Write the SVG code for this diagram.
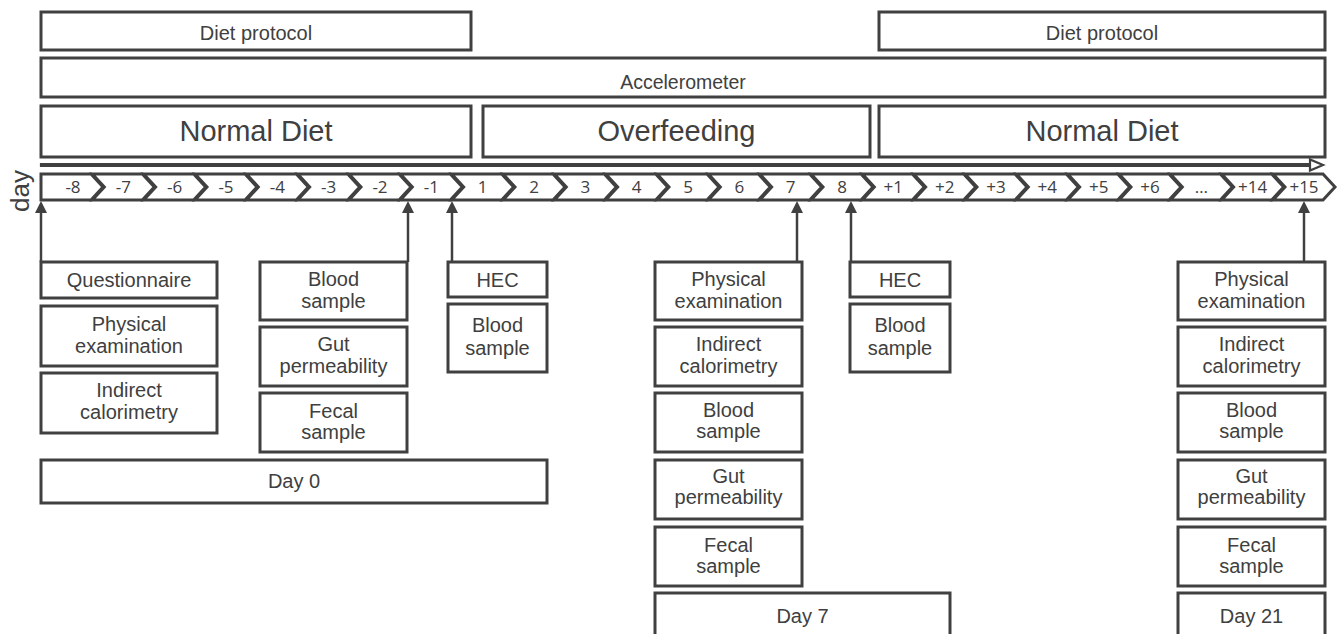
<svg xmlns="http://www.w3.org/2000/svg" width="1339" height="634" viewBox="0 0 1339 634">
<style>
.box{fill:#fff;stroke:#404040;stroke-width:3}
.t{font-family:"Liberation Sans",Arial,sans-serif;font-size:20px;fill:#404040;text-anchor:middle}
.big{font-size:29px}
.acc{font-size:19.5px}
.chev{fill:#fff;stroke:#404040;stroke-width:3;stroke-linejoin:miter}
.n{font-family:"Open Sans","Liberation Sans",sans-serif;font-size:17px;fill:#404040;text-anchor:middle}
.arr{stroke:#404040;stroke-width:2.5;fill:none}
</style>
<defs>
<polygon id="chv" points="0,0 50,0 62,13 50,26 0,26 12,13"/>
<marker id="ah" markerUnits="userSpaceOnUse" markerWidth="12" markerHeight="12" refX="0" refY="5" orient="auto" viewBox="0 0 10 10">
<path d="M0,0 L10,5 L0,10 z" fill="#404040"/>
</marker>
</defs>

<g id="top-diet-1"><rect class="box" x="41" y="12" width="430" height="38"/><text class="t" x="256" y="40">Diet protocol</text></g>
<g id="top-diet-2"><rect class="box" x="879" y="12" width="446" height="38"/><text class="t" x="1102" y="40">Diet protocol</text></g>
<g id="accelerometer"><rect class="box" x="41" y="58" width="1284" height="39"/><text class="t acc" x="683" y="89">Accelerometer</text></g>
<g id="phase-normal-1"><rect class="box" x="41" y="106" width="430" height="51"/><text class="t big" x="256" y="141">Normal Diet</text></g>
<g id="phase-overfeeding"><rect class="box" x="483" y="106" width="387" height="51"/><text class="t big" x="676.5" y="141">Overfeeding</text></g>
<g id="phase-normal-2"><rect class="box" x="879" y="106" width="446" height="51"/><text class="t big" x="1102" y="141">Normal Diet</text></g>

<g id="timeline-arrow"><polygon points="41,164 1310,164 1310,159.5 1323,165 1310,170.5 1310,166 41,166" fill="#fff" stroke="#404040" stroke-width="2.2" stroke-linejoin="miter"/></g>

<g id="day-label"><text class="t" style="font-size:26px" transform="translate(29,191) rotate(-90)">day</text></g>

<g id="days">
<polygon class="chev" points="41,174 91,174 103,187 91,200 41,200"/>
<use href="#chv" class="chev" x="92.33" y="174"/>
<use href="#chv" class="chev" x="143.67" y="174"/>
<use href="#chv" class="chev" x="195" y="174"/>
<use href="#chv" class="chev" x="246.33" y="174"/>
<use href="#chv" class="chev" x="297.67" y="174"/>
<use href="#chv" class="chev" x="349" y="174"/>
<use href="#chv" class="chev" x="400.33" y="174"/>
<use href="#chv" class="chev" x="451.67" y="174"/>
<use href="#chv" class="chev" x="503" y="174"/>
<use href="#chv" class="chev" x="554.33" y="174"/>
<use href="#chv" class="chev" x="605.67" y="174"/>
<use href="#chv" class="chev" x="657" y="174"/>
<use href="#chv" class="chev" x="708.33" y="174"/>
<use href="#chv" class="chev" x="759.67" y="174"/>
<use href="#chv" class="chev" x="811" y="174"/>
<use href="#chv" class="chev" x="862.33" y="174"/>
<use href="#chv" class="chev" x="913.67" y="174"/>
<use href="#chv" class="chev" x="965" y="174"/>
<use href="#chv" class="chev" x="1016.33" y="174"/>
<use href="#chv" class="chev" x="1067.67" y="174"/>
<use href="#chv" class="chev" x="1119" y="174"/>
<use href="#chv" class="chev" x="1170.33" y="174"/>
<use href="#chv" class="chev" x="1221.67" y="174"/>
<use href="#chv" class="chev" x="1273" y="174"/>
<text class="n" x="73" y="193">-8</text>
<text class="n" x="123.3" y="193">-7</text>
<text class="n" x="174.7" y="193">-6</text>
<text class="n" x="226" y="193">-5</text>
<text class="n" x="277.3" y="193">-4</text>
<text class="n" x="328.7" y="193">-3</text>
<text class="n" x="380" y="193">-2</text>
<text class="n" x="431.3" y="193">-1</text>
<text class="n" x="482.7" y="193">1</text>
<text class="n" x="534" y="193">2</text>
<text class="n" x="585.3" y="193">3</text>
<text class="n" x="636.7" y="193">4</text>
<text class="n" x="688" y="193">5</text>
<text class="n" x="739.3" y="193">6</text>
<text class="n" x="790.7" y="193">7</text>
<text class="n" x="842" y="193">8</text>
<text class="n" x="893.3" y="193">+1</text>
<text class="n" x="944.7" y="193">+2</text>
<text class="n" x="996" y="193">+3</text>
<text class="n" x="1047.3" y="193">+4</text>
<text class="n" x="1098.7" y="193">+5</text>
<text class="n" x="1150" y="193">+6</text>
<text class="n" x="1201.3" y="193">…</text>
<text class="n" x="1252.7" y="193">+14</text>
<text class="n" x="1304" y="193">+15</text>
</g>

<g id="connectors">
<line class="arr" x1="41" y1="262" x2="41" y2="213" marker-end="url(#ah)"/>
<line class="arr" x1="408" y1="262" x2="408" y2="213" marker-end="url(#ah)"/>
<line class="arr" x1="452" y1="262" x2="452" y2="213" marker-end="url(#ah)"/>
<line class="arr" x1="797" y1="262" x2="797" y2="213" marker-end="url(#ah)"/>
<line class="arr" x1="851" y1="262" x2="851" y2="213" marker-end="url(#ah)"/>
<line class="arr" x1="1304" y1="262" x2="1304" y2="213" marker-end="url(#ah)"/>
</g>

<g id="questionnaire"><rect class="box" x="41" y="262" width="176" height="36"/><text class="t" x="129" y="287">Questionnaire</text></g>
<g id="physical-exam-0"><rect class="box" x="41" y="306" width="176" height="60"/><text class="t" x="129" y="331">Physical</text><text class="t" x="129" y="353">examination</text></g>
<g id="calorimetry-0"><rect class="box" x="41" y="373" width="176" height="60"/><text class="t" x="129" y="397">Indirect</text><text class="t" x="129" y="419">calorimetry</text></g>

<g id="blood-0"><rect class="box" x="260" y="262" width="147" height="58"/><text class="t" x="333.5" y="286">Blood</text><text class="t" x="333.5" y="308">sample</text></g>
<g id="gut-0"><rect class="box" x="260" y="327" width="147" height="59"/><text class="t" x="333.5" y="351">Gut</text><text class="t" x="333.5" y="373">permeability</text></g>
<g id="fecal-0"><rect class="box" x="260" y="393" width="147" height="59"/><text class="t" x="333.5" y="418">Fecal</text><text class="t" x="333.5" y="439">sample</text></g>

<g id="hec-1"><rect class="box" x="448" y="262" width="99" height="35"/><text class="t" x="497.5" y="286.5">HEC</text></g>
<g id="blood-1"><rect class="box" x="448" y="304" width="99" height="68"/><text class="t" x="497.5" y="332">Blood</text><text class="t" x="497.5" y="355">sample</text></g>

<g id="day0"><rect class="box" x="41" y="460" width="506" height="43"/><text class="t" x="294" y="488">Day 0</text></g>

<g id="physical-exam-7"><rect class="box" x="655" y="262" width="147" height="58"/><text class="t" x="728.5" y="286">Physical</text><text class="t" x="728.5" y="308">examination</text></g>
<g id="calorimetry-7"><rect class="box" x="655" y="327" width="147" height="59"/><text class="t" x="728.5" y="351">Indirect</text><text class="t" x="728.5" y="373">calorimetry</text></g>
<g id="blood-7"><rect class="box" x="655" y="393" width="147" height="59"/><text class="t" x="728.5" y="417">Blood</text><text class="t" x="728.5" y="438">sample</text></g>
<g id="gut-7"><rect class="box" x="655" y="460" width="147" height="59"/><text class="t" x="728.5" y="483">Gut</text><text class="t" x="728.5" y="504">permeability</text></g>
<g id="fecal-7"><rect class="box" x="655" y="527" width="147" height="59"/><text class="t" x="728.5" y="552">Fecal</text><text class="t" x="728.5" y="573">sample</text></g>
<g id="day7"><rect class="box" x="655" y="593" width="295" height="60"/><text class="t" x="802.5" y="623">Day 7</text></g>

<g id="hec-8"><rect class="box" x="850" y="262" width="100" height="35"/><text class="t" x="900" y="286.5">HEC</text></g>
<g id="blood-8"><rect class="box" x="850" y="304" width="100" height="68"/><text class="t" x="900" y="332">Blood</text><text class="t" x="900" y="355">sample</text></g>

<g id="physical-exam-21"><rect class="box" x="1178" y="262" width="147" height="58"/><text class="t" x="1251.5" y="286">Physical</text><text class="t" x="1251.5" y="308">examination</text></g>
<g id="calorimetry-21"><rect class="box" x="1178" y="327" width="147" height="59"/><text class="t" x="1251.5" y="351">Indirect</text><text class="t" x="1251.5" y="373">calorimetry</text></g>
<g id="blood-21"><rect class="box" x="1178" y="393" width="147" height="59"/><text class="t" x="1251.5" y="417">Blood</text><text class="t" x="1251.5" y="438">sample</text></g>
<g id="gut-21"><rect class="box" x="1178" y="460" width="147" height="59"/><text class="t" x="1251.5" y="483">Gut</text><text class="t" x="1251.5" y="504">permeability</text></g>
<g id="fecal-21"><rect class="box" x="1178" y="527" width="147" height="59"/><text class="t" x="1251.5" y="552">Fecal</text><text class="t" x="1251.5" y="573">sample</text></g>
<g id="day21"><rect class="box" x="1178" y="593" width="147" height="60"/><text class="t" x="1251.5" y="623">Day 21</text></g>
</svg>
